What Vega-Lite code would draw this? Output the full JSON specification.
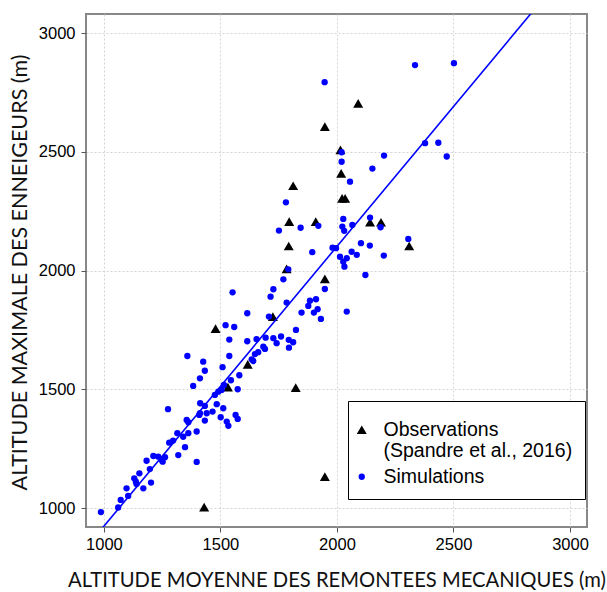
{
  "$schema": "https://vega.github.io/schema/vega-lite/v6.json",
  "width": 501,
  "height": 513,
  "autosize": "none",
  "padding": {"left": 86, "top": 14, "right": 20, "bottom": 65},
  "background": "white",
  "config": {
    "view": {"stroke": "#888888", "strokeWidth": 2},
    "axis": {
      "domain": false,
      "grid": true,
      "gridDash": [2, 2],
      "gridColor": "#d4d4d4",
      "gridWidth": 1,
      "tickColor": "#555555",
      "tickSize": 5,
      "labelFont": "Liberation Sans",
      "labelFontSize": 16.5,
      "labelColor": "#000000",
      "titleFont": "Lato",
      "titleFontWeight": "normal",
      "titleColor": "#111111",
      "format": "d"
    }
  },
  "datasets": {
    "pts": [
      {"a": 1430, "m": 1005, "type": "Observations"},
      {"a": 1948, "m": 1133, "type": "Observations"},
      {"a": 1823, "m": 1508, "type": "Observations"},
      {"a": 1617, "m": 1606, "type": "Observations"},
      {"a": 1532, "m": 1510, "type": "Observations"},
      {"a": 1479, "m": 1756, "type": "Observations"},
      {"a": 1725, "m": 1807, "type": "Observations"},
      {"a": 1948, "m": 1966, "type": "Observations"},
      {"a": 1784, "m": 2008, "type": "Observations"},
      {"a": 1793, "m": 2104, "type": "Observations"},
      {"a": 1795, "m": 2207, "type": "Observations"},
      {"a": 1909, "m": 2207, "type": "Observations"},
      {"a": 1812, "m": 2358, "type": "Observations"},
      {"a": 1948, "m": 2607, "type": "Observations"},
      {"a": 2091, "m": 2705, "type": "Observations"},
      {"a": 2015, "m": 2509, "type": "Observations"},
      {"a": 2018, "m": 2410, "type": "Observations"},
      {"a": 2022, "m": 2305, "type": "Observations"},
      {"a": 2035, "m": 2305, "type": "Observations"},
      {"a": 2142, "m": 2204, "type": "Observations"},
      {"a": 2189, "m": 2204, "type": "Observations"},
      {"a": 2310, "m": 2104, "type": "Observations"},
      {"a": 987, "m": 984, "type": "Simulations"},
      {"a": 1061, "m": 1003, "type": "Simulations"},
      {"a": 1072, "m": 1035, "type": "Simulations"},
      {"a": 1104, "m": 1052, "type": "Simulations"},
      {"a": 1097, "m": 1084, "type": "Simulations"},
      {"a": 1140, "m": 1102, "type": "Simulations"},
      {"a": 1130, "m": 1126, "type": "Simulations"},
      {"a": 1152, "m": 1147, "type": "Simulations"},
      {"a": 1137, "m": 1112, "type": "Simulations"},
      {"a": 1169, "m": 1084, "type": "Simulations"},
      {"a": 1202, "m": 1108, "type": "Simulations"},
      {"a": 1197, "m": 1165, "type": "Simulations"},
      {"a": 1183, "m": 1200, "type": "Simulations"},
      {"a": 1212, "m": 1220, "type": "Simulations"},
      {"a": 1233, "m": 1217, "type": "Simulations"},
      {"a": 1248, "m": 1203, "type": "Simulations"},
      {"a": 1262, "m": 1215, "type": "Simulations"},
      {"a": 1252, "m": 1196, "type": "Simulations"},
      {"a": 1319, "m": 1224, "type": "Simulations"},
      {"a": 1280, "m": 1276, "type": "Simulations"},
      {"a": 1297, "m": 1285, "type": "Simulations"},
      {"a": 1315, "m": 1316, "type": "Simulations"},
      {"a": 1348, "m": 1257, "type": "Simulations"},
      {"a": 1340, "m": 1301, "type": "Simulations"},
      {"a": 1362, "m": 1316, "type": "Simulations"},
      {"a": 1398, "m": 1323, "type": "Simulations"},
      {"a": 1398, "m": 1195, "type": "Simulations"},
      {"a": 1362, "m": 1362, "type": "Simulations"},
      {"a": 1355, "m": 1372, "type": "Simulations"},
      {"a": 1409, "m": 1393, "type": "Simulations"},
      {"a": 1433, "m": 1369, "type": "Simulations"},
      {"a": 1412, "m": 1400, "type": "Simulations"},
      {"a": 1441, "m": 1400, "type": "Simulations"},
      {"a": 1413, "m": 1442, "type": "Simulations"},
      {"a": 1433, "m": 1431, "type": "Simulations"},
      {"a": 1466, "m": 1407, "type": "Simulations"},
      {"a": 1484, "m": 1438, "type": "Simulations"},
      {"a": 1512, "m": 1421, "type": "Simulations"},
      {"a": 1501, "m": 1383, "type": "Simulations"},
      {"a": 1527, "m": 1365, "type": "Simulations"},
      {"a": 1534, "m": 1347, "type": "Simulations"},
      {"a": 1565, "m": 1393, "type": "Simulations"},
      {"a": 1574, "m": 1376, "type": "Simulations"},
      {"a": 1275, "m": 1417, "type": "Simulations"},
      {"a": 1476, "m": 1477, "type": "Simulations"},
      {"a": 1491, "m": 1491, "type": "Simulations"},
      {"a": 1505, "m": 1498, "type": "Simulations"},
      {"a": 1515, "m": 1519, "type": "Simulations"},
      {"a": 1574, "m": 1501, "type": "Simulations"},
      {"a": 1581, "m": 1560, "type": "Simulations"},
      {"a": 1509, "m": 1594, "type": "Simulations"},
      {"a": 1433, "m": 1579, "type": "Simulations"},
      {"a": 1412, "m": 1547, "type": "Simulations"},
      {"a": 1383, "m": 1515, "type": "Simulations"},
      {"a": 1426, "m": 1617, "type": "Simulations"},
      {"a": 1641, "m": 1620, "type": "Simulations"},
      {"a": 1358, "m": 1641, "type": "Simulations"},
      {"a": 1552, "m": 1909, "type": "Simulations"},
      {"a": 1615, "m": 1821, "type": "Simulations"},
      {"a": 1522, "m": 1771, "type": "Simulations"},
      {"a": 1559, "m": 1763, "type": "Simulations"},
      {"a": 1538, "m": 1710, "type": "Simulations"},
      {"a": 1538, "m": 1641, "type": "Simulations"},
      {"a": 1615, "m": 1703, "type": "Simulations"},
      {"a": 1655, "m": 1712, "type": "Simulations"},
      {"a": 1694, "m": 1718, "type": "Simulations"},
      {"a": 1727, "m": 1716, "type": "Simulations"},
      {"a": 1741, "m": 1695, "type": "Simulations"},
      {"a": 1760, "m": 1723, "type": "Simulations"},
      {"a": 1793, "m": 1709, "type": "Simulations"},
      {"a": 1812, "m": 1699, "type": "Simulations"},
      {"a": 1824, "m": 1751, "type": "Simulations"},
      {"a": 1794, "m": 1676, "type": "Simulations"},
      {"a": 1684, "m": 1680, "type": "Simulations"},
      {"a": 1691, "m": 1671, "type": "Simulations"},
      {"a": 1662, "m": 1657, "type": "Simulations"},
      {"a": 1648, "m": 1649, "type": "Simulations"},
      {"a": 1634, "m": 1627, "type": "Simulations"},
      {"a": 1545, "m": 1539, "type": "Simulations"},
      {"a": 1708, "m": 1807, "type": "Simulations"},
      {"a": 1715, "m": 1891, "type": "Simulations"},
      {"a": 1727, "m": 1922, "type": "Simulations"},
      {"a": 1784, "m": 1866, "type": "Simulations"},
      {"a": 1770, "m": 1964, "type": "Simulations"},
      {"a": 1791, "m": 2006, "type": "Simulations"},
      {"a": 1848, "m": 1824, "type": "Simulations"},
      {"a": 1877, "m": 1852, "type": "Simulations"},
      {"a": 1884, "m": 1874, "type": "Simulations"},
      {"a": 1910, "m": 1880, "type": "Simulations"},
      {"a": 1901, "m": 1824, "type": "Simulations"},
      {"a": 1917, "m": 1838, "type": "Simulations"},
      {"a": 1931, "m": 1797, "type": "Simulations"},
      {"a": 1948, "m": 1923, "type": "Simulations"},
      {"a": 2042, "m": 1828, "type": "Simulations"},
      {"a": 1894, "m": 2078, "type": "Simulations"},
      {"a": 2013, "m": 2059, "type": "Simulations"},
      {"a": 2027, "m": 2038, "type": "Simulations"},
      {"a": 2042, "m": 2053, "type": "Simulations"},
      {"a": 2032, "m": 2017, "type": "Simulations"},
      {"a": 2063, "m": 2080, "type": "Simulations"},
      {"a": 2085, "m": 2067, "type": "Simulations"},
      {"a": 1981, "m": 2097, "type": "Simulations"},
      {"a": 1996, "m": 2095, "type": "Simulations"},
      {"a": 2103, "m": 2116, "type": "Simulations"},
      {"a": 2141, "m": 2106, "type": "Simulations"},
      {"a": 2201, "m": 2064, "type": "Simulations"},
      {"a": 2122, "m": 1982, "type": "Simulations"},
      {"a": 2306, "m": 2134, "type": "Simulations"},
      {"a": 2020, "m": 2499, "type": "Simulations"},
      {"a": 2020, "m": 2459, "type": "Simulations"},
      {"a": 2056, "m": 2375, "type": "Simulations"},
      {"a": 2152, "m": 2430, "type": "Simulations"},
      {"a": 2202, "m": 2485, "type": "Simulations"},
      {"a": 2027, "m": 2218, "type": "Simulations"},
      {"a": 2023, "m": 2186, "type": "Simulations"},
      {"a": 2031, "m": 2168, "type": "Simulations"},
      {"a": 2066, "m": 2193, "type": "Simulations"},
      {"a": 2142, "m": 2224, "type": "Simulations"},
      {"a": 2187, "m": 2183, "type": "Simulations"},
      {"a": 1844, "m": 2181, "type": "Simulations"},
      {"a": 1920, "m": 2189, "type": "Simulations"},
      {"a": 1781, "m": 2288, "type": "Simulations"},
      {"a": 1751, "m": 2169, "type": "Simulations"},
      {"a": 2378, "m": 2537, "type": "Simulations"},
      {"a": 2435, "m": 2539, "type": "Simulations"},
      {"a": 2471, "m": 2481, "type": "Simulations"},
      {"a": 1947, "m": 2794, "type": "Simulations"},
      {"a": 2335, "m": 2866, "type": "Simulations"},
      {"a": 2502, "m": 2874, "type": "Simulations"}
    ],
    "fit": [
      {"a": 900, "m": 806.7},
      {"a": 3100, "m": 3398}
    ]
  },
  "layer": [
    {
      "data": {"name": "pts"},
      "mark": {"type": "point", "filled": true, "opacity": 1, "strokeWidth": 0},
      "encoding": {
        "x": {
          "field": "a", "type": "quantitative",
          "scale": {"domain": [923, 3073], "nice": false, "zero": false},
          "axis": {"values": [1000, 1500, 2000, 2500, 3000], "title": "ALTITUDE MOYENNE DES REMONTEES MECANIQUES (m)", "titleFontSize": 20.2, "labelPadding": 4, "titleY": 53, "titleBaseline": "middle"}
        },
        "y": {
          "field": "m", "type": "quantitative",
          "scale": {"domain": [921, 3081], "nice": false, "zero": false},
          "axis": {"values": [1000, 1500, 2000, 2500, 3000], "title": "ALTITUDE MAXIMALE DES ENNEIGEURS (m)", "titleFontSize": 21.5, "labelPadding": 6, "titleX": -66, "titleY": 258, "titleBaseline": "middle", "titleAngle": -90}
        },
        "shape": {
          "field": "type", "type": "nominal",
          "scale": {"domain": ["Observations", "Simulations"], "range": ["triangle-up", "circle"]},
          "legend": {
            "title": " ",
            "titleFontSize": 6,
            "titlePadding": 1,
            "orient": "none",
            "legendX": 262,
            "legendY": 387,
            "padding": 12,
            "strokeColor": "#000000",
            "fillColor": "#ffffff",
            "labelFont": "Liberation Sans",
            "labelFontSize": 19.5,
            "labelColor": "#000000",
            "labelOffset": 12,
            "labelLimit": 400,
            "rowPadding": 5,
            "symbolOffset": -8,
            "labelExpr": "datum.value == 'Observations' ? ['Observations', '(Spandre et al., 2016)'] : datum.label"
          }
        },
        "color": {
          "field": "type", "type": "nominal",
          "scale": {"domain": ["Observations", "Simulations"], "range": ["#000000", "#0000ff"]}
        },
        "size": {
          "field": "type", "type": "nominal",
          "scale": {"domain": ["Observations", "Simulations"], "range": [100, 40]}
        }
      }
    },
    {
      "data": {"name": "fit"},
      "mark": {"type": "line", "color": "#0000ff", "strokeWidth": 1.6, "clip": true},
      "encoding": {
        "x": {"field": "a", "type": "quantitative"},
        "y": {"field": "m", "type": "quantitative"}
      }
    }
  ]
}
